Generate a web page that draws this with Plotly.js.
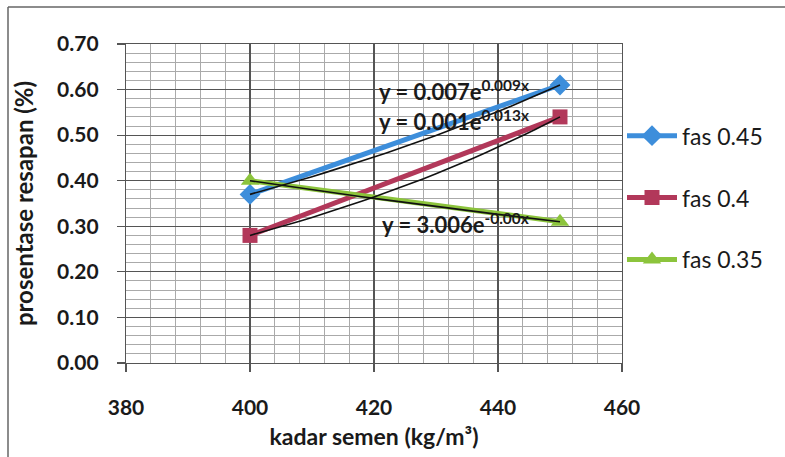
<!DOCTYPE html>
<html>
<head>
<meta charset="utf-8">
<script src="https://cdn.plot.ly/plotly-3.0.1.min.js"></script>
<style>html,body{margin:0;padding:0;background:#fff;}#chart{width:785px;height:457px;}</style>
</head>
<body>
<div id="chart"></div>
<script>
// Data
const kadarSemen = [400, 450];
const fas045 = [0.37, 0.61];
const fas040 = [0.28, 0.54];
const fas035 = [0.40, 0.31];
const seriesNames = ["fas 0.45", "fas 0.4", "fas 0.35"];
const trendLabels = ["y = 0.007e<sup>0.009x</sup>", "y = 0.001e<sup>0.013x</sup>", "y = 3.006e<sup>-0.00x</sup>"];
const xTicks = [380, 400, 420, 440, 460];
const yTicks = [0.00, 0.10, 0.20, 0.30, 0.40, 0.50, 0.60, 0.70];

const colors = ["#3d8edb", "#b2385a", "#8cc43c"];
const symbols = ["diamond", "square", "triangle-up"];
const allSeries = [fas045, fas040, fas035];
const FONT = "Lato, 'Open Sans', sans-serif";

// exponential trendline (least squares on ln y)
function expFit(xs, ys) {
  const n = xs.length;
  let sx = 0, sy = 0, sxx = 0, sxy = 0;
  for (let i = 0; i < n; i++) {
    const ly = Math.log(ys[i]);
    sx += xs[i]; sy += ly; sxx += xs[i] * xs[i]; sxy += xs[i] * ly;
  }
  const b = (n * sxy - sx * sy) / (n * sxx - sx * sx);
  const a = Math.exp((sy - b * sx) / n);
  const x0 = Math.min(...xs), x1 = Math.max(...xs);
  const tx = [], ty = [];
  const steps = 25;
  for (let i = 0; i <= steps; i++) {
    const x = x0 + (x1 - x0) * i / steps;
    tx.push(x); ty.push(a * Math.exp(b * x));
  }
  return {x: tx, y: ty};
}

const traces = [];
allSeries.forEach((ys, i) => {
  traces.push({
    x: kadarSemen, y: ys, name: seriesNames[i], type: "scatter", mode: "lines+markers",
    line: {color: colors[i], width: 5},
    marker: {symbol: symbols[i], size: i === 1 ? 15 : 16, color: colors[i]},
    legendgroup: "g" + i
  });
});
allSeries.forEach((ys, i) => {
  const t = expFit(kadarSemen, ys);
  traces.push({
    x: t.x, y: t.y, type: "scatter", mode: "lines", showlegend: false,
    line: {color: "#111", width: 1.6}, hoverinfo: "skip"
  });
});

const annPos = [[420.5, 0.598], [420.5, 0.533], [421, 0.307]];
const annotations = trendLabels.map((t, i) => ({
  x: annPos[i][0], xref: "x", y: annPos[i][1], yref: "y", text: t, showarrow: false,
  xanchor: "left", yanchor: "middle",
  font: {family: FONT, size: 22, color: "#1a1a1a", weight: "bold"}
}));

const layout = {
  width: 785, height: 457,
  margin: {l: 126, r: 163, t: 44, b: 94},
  paper_bgcolor: "#ffffff", plot_bgcolor: "#ffffff",
  font: {family: FONT, color: "#1a1a1a"},
  showlegend: true,
  legend: {
    x: 1.0, xanchor: "left", y: 0.78, yanchor: "top",
    font: {family: FONT, size: 23, color: "#1a1a1a"},
    tracegroupgap: 29, itemwidth: 50, bgcolor: "rgba(0,0,0,0)"
  },
  xaxis: {
    range: [380, 460], tickvals: xTicks, ticktext: xTicks.map(String),
    showgrid: true, gridcolor: "#555", gridwidth: 1.2,
    minor: {dtick: 4, tick0: 380, showgrid: true, gridcolor: "#aaa", gridwidth: 1},
    ticks: "outside", ticklen: 8, tickcolor: "#555", tickwidth: 1.2,
    ticklabelstandoff: 18,
    showline: true, linecolor: "#555", linewidth: 1.2, mirror: true,
    zeroline: false,
    tickfont: {family: FONT, size: 21, color: "#1a1a1a", weight: "bold"},
    title: {text: "kadar semen (kg/m³)", font: {family: FONT, size: 23, color: "#1a1a1a", weight: "bold"}, standoff: 10}
  },
  yaxis: {
    range: [0, 0.70], tickvals: yTicks, ticktext: yTicks.map(v => v.toFixed(2)),
    showgrid: true, gridcolor: "#555", gridwidth: 1.2,
    minor: {dtick: 0.02, tick0: 0, showgrid: true, gridcolor: "#aaa", gridwidth: 1},
    ticks: "outside", ticklen: 8, tickcolor: "#555", tickwidth: 1.2,
    ticklabelstandoff: 14,
    showline: true, linecolor: "#555", linewidth: 1.2, mirror: true,
    zeroline: false,
    tickfont: {family: FONT, size: 21, color: "#1a1a1a", weight: "bold"},
    title: {text: "prosentase resapan (%)", font: {family: FONT, size: 24, color: "#1a1a1a", weight: "bold"}, standoff: 16}
  },
  annotations: annotations,
  shapes: [
    {type: "line", xref: "paper", yref: "paper", x0: -118/496, x1: 163/496 + 1, y0: 1 + 37/319, y1: 1 + 37/319, line: {color: "#666", width: 1.5}},
    {type: "line", xref: "paper", yref: "paper", x0: -118/496, x1: -118/496, y0: 1 + 37/319, y1: -94/319, line: {color: "#666", width: 1.5}}
  ]
};

Plotly.newPlot("chart", traces, layout, {displayModeBar: false, staticPlot: true});
</script>
</body>
</html>
